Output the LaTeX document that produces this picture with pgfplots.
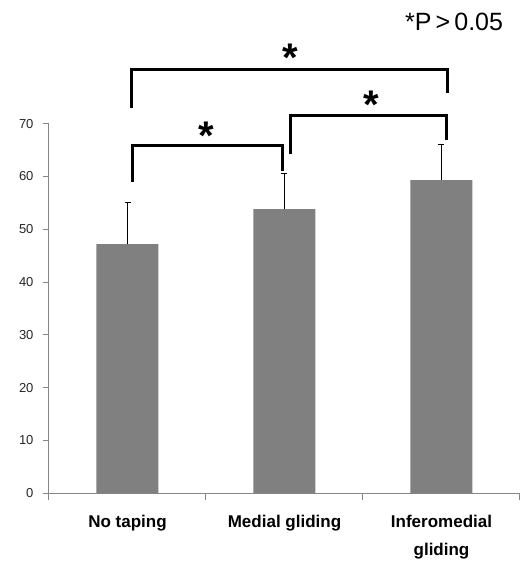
\documentclass[border=0pt]{standalone}
\usepackage{pgfplots}
\pgfplotsset{compat=1.18}
\usepackage{fontspec}
\setmainfont{Liberation Sans}
\definecolor{barg}{RGB}{128,128,128}
\definecolor{axg}{RGB}{134,134,134}
\begin{document}
\begin{tikzpicture}[x=1pt,y=1pt]
\path[use as bounding box] (0,0) rectangle (527,566);
\begin{axis}[at={(49pt,72.7pt)}, anchor=south west, scale only axis,
  width=471pt, height=369.6pt,
  xmin=-0.5, xmax=2.5, ymin=0, ymax=70,
  axis lines*=left, axis line style={axg, line width=1pt},
  ytick={0,10,...,70},
  xtick={0,1,2}, xticklabels={No taping, Medial gliding, {Inferomedial\\gliding}},
  x tick label style={font=\fontsize{17}{28}\selectfont\bfseries, align=center, yshift=-12pt},
  y tick label style={font=\fontsize{13}{13}\selectfont, text=black!85, xshift=-6pt},
  tick align=outside, major tick length=6pt, tick style={axg, line width=1pt},
  xtick style={draw=none},
  extra x ticks={-0.5,0.5,1.5,2.5}, extra x tick labels={},
  extra x tick style={xtick style={draw=axg, line width=1pt}, major tick length=7pt},
  /pgf/number format/assume math mode=true,
  clip=false]
\addplot[ybar, bar width=62pt, fill=barg, draw=none,
  error bars/.cd, y dir=plus, y explicit,
  error mark options={rotate=90, black, mark size=3pt, line width=0.8pt},
  error bar style={black, line width=0.8pt}]
  coordinates {(0,47.2) +- (0,7.9) (1,53.8) +- (0,6.7) (2,59.3) +- (0,6.8)};
\addplot[black, line width=3pt, line join=miter] coordinates {(0.034,59.0) (0.034,65.8) (0.99,65.8) (0.99,61.0)};
\addplot[black, line width=3pt, line join=miter] coordinates {(1.04,64.2) (1.04,71.5) (2.03,71.5) (2.03,66.9)};
\addplot[black, line width=3pt, line join=miter] coordinates {(0.024,73.0) (0.024,80.3) (2.04,80.3) (2.04,75.8)};
\node[font=\fontsize{40}{40}\selectfont\bfseries] at (axis cs:0.5,67.7) {*};
\node[font=\fontsize{40}{40}\selectfont\bfseries] at (axis cs:1.55,73.6) {*};
\node[font=\fontsize{40}{40}\selectfont\bfseries] at (axis cs:1.04,82.5) {*};
\node[font=\fontsize{25}{25}\selectfont] at (axis cs:2.08,89.2) {*P\,>\,0.05};
\end{axis}
\end{tikzpicture}
\end{document}
